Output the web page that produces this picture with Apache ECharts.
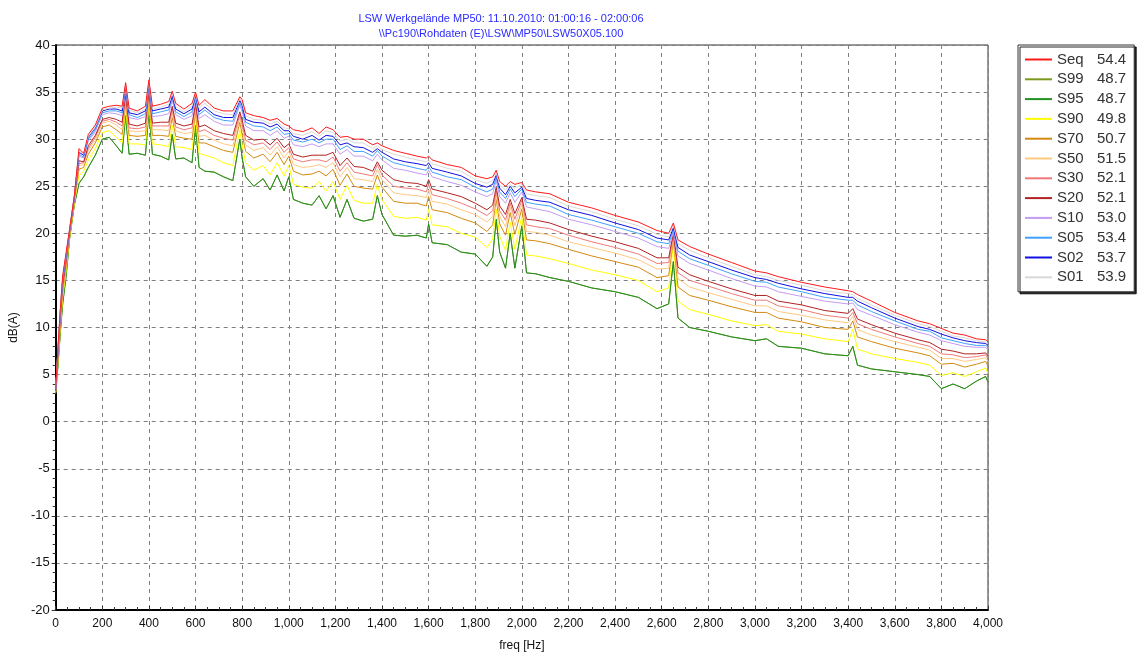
<!DOCTYPE html>
<html><head><meta charset="utf-8">
<script src="https://cdn.jsdelivr.net/npm/echarts@6/dist/echarts.min.js"></script>
<style>html,body{margin:0;padding:0;background:#fff}#c{width:1142px;height:657px}</style>
</head><body><div id="c"></div>
<script>
const titleLines = ['LSW Werkgelände MP50: 11.10.2010: 01:00:16 - 02:00:06', '\\\\Pc190\\Rohdaten (E)\\LSW\\MP50\\LSW50X05.100'];
const seriesNames = ['Seq','S99','S95','S90','S70','S50','S30','S20','S10','S05','S02','S01'];
const legendValues = [54.4,48.7,48.7,49.8,50.7,51.5,52.1,52.1,53.0,53.4,53.7,53.9];
const seriesColors = ['#ff1a1a','#7a9a20','#229022','#ffff00','#d28a10','#ffc880','#f07878','#b22222','#c39bef','#40a0ff','#1010e0','#d8d8d8'];

const freq = [0,10,20,30,45,60,80,100,120,140,170,200,230,260,285,300,315,350,385,400,415,450,485,500,515,550,585,600,615,640,680,720,760,790,800,815,850,890,920,950,980,1000,1020,1060,1100,1130,1160,1190,1220,1250,1280,1320,1360,1380,1400,1450,1500,1550,1590,1600,1615,1680,1740,1800,1850,1875,1890,1905,1930,1950,1970,2000,2020,2060,2120,2200,2300,2400,2500,2580,2630,2650,2670,2720,2800,2900,3000,3050,3100,3200,3300,3400,3420,3440,3500,3600,3700,3750,3800,3850,3900,3950,3990,4000];

const seq = [3.5,8,12,15.5,18,20.5,24,29.0,28.5,30.5, 31.5,33.3,33.5,33.6,33.5,36.0,33.3,33.0,33.5,36.3, 33.5,33.7,34.0,35.1,33.8,33.2,33.8,35.0,33.6,34.2, 33.3,33.0,33.0,34.5,34.2,32.8,32.5,32.3,32.0,32.2, 31.6,31.4,31.0,30.8,31.2,30.6,31.3,31.0,30.2,30.3, 30.0,30.0,29.4,29.6,29.3,28.8,28.5,28.2,28.0,28.2, 27.8,27.3,27.0,26.1,25.8,26.0,26.7,25.5,25.0,25.5, 25.2,25.4,24.6,24.4,24.2,23.3,22.7,21.9,21.2,20.3, 20.0,21.1,19.3,18.6,17.8,16.9,16.0,15.8,15.4,14.8, 14.3,13.9,13.8,13.5,12.8,11.6,10.7,10.4,9.9,9.4, 9.2,8.8,8.7,8.5];
const s95 = [3.0,6,9.5,12.5,15.5,19.5,23.0,25.3,26.0,27.0, 28.3,30.0,30.2,29.3,28.5,32.5,28.4,28.5,28.3,33.0, 28.4,28.2,27.8,30.5,27.9,28.0,27.5,31.5,27.0,26.6, 26.5,26.0,25.6,30.0,28.0,26.0,25.0,25.8,24.6,26.2, 24.5,26.0,23.6,23.2,23.0,24.0,22.6,24.0,21.7,23.6, 21.6,21.3,21.5,24.0,22.0,19.8,19.7,19.8,19.5,21.0, 19.0,18.8,18.0,17.8,16.5,17.5,21.5,18.0,16.3,20.0, 16.3,20.8,15.8,15.7,15.3,14.9,14.2,13.8,13.2,12.0, 12.5,17.0,11.0,10.0,9.6,9.0,8.6,8.8,8.0,7.8, 7.2,7.0,8.0,6.0,5.6,5.3,5.0,4.8,3.5,4.0, 3.5,4.3,4.8,4.2];
const s99 = [3.0,6,9.5,12.5,15.5,19.5,23.0,25.3,26.0,27.0, 28.3,30.0,30.2,29.3,28.5,32.5,28.4,28.5,28.3,33.0, 28.4,28.2,27.8,30.5,27.9,28.0,27.5,31.5,27.0,26.6, 26.5,26.0,25.6,30.0,28.0,26.0,25.0,25.8,24.6,26.2, 24.5,26.0,23.6,23.2,23.0,24.0,22.6,24.0,21.7,23.6, 21.6,21.3,21.5,24.0,22.0,19.8,19.7,19.8,19.5,21.0, 19.0,18.8,18.0,17.8,16.5,17.5,21.5,18.0,16.3,20.0, 16.3,20.8,15.8,15.7,15.3,14.9,14.2,13.8,13.2,12.0, 12.5,17.0,11.0,10.0,9.6,9.0,8.6,8.8,8.0,7.8, 7.2,7.0,8.0,6.0,5.6,5.3,5.0,4.8,3.5,4.0, 3.5,4.3,4.8,4.2];
const s01 = [3.5,7.9,11.9,15.4,17.9,20.5,24.0,28.8,28.4,30.3, 31.3,33.1,33.3,33.4,33.3,35.8,33.1,32.8,33.2,36.1, 33.2,33.4,33.7,34.9,33.5,32.9,33.5,34.8,33.3,33.8, 33.0,32.7,32.6,34.3,33.9,32.5,32.1,32.0,31.6,31.9, 31.2,31.1,30.6,30.4,30.8,30.3,30.9,30.7,29.8,30.0, 29.6,29.6,29.0,29.3,28.9,28.4,28.1,27.8,27.6,27.8, 27.4,26.9,26.6,25.7,25.3,25.6,26.4,25.1,24.6,25.2, 24.8,25.2,24.2,24.0,23.8,22.9,22.3,21.5,20.8,19.9, 19.6,20.9,18.9,18.2,17.4,16.5,15.6,15.4,15.0,14.5, 13.9,13.6,13.5,13.1,12.4,11.3,10.4,10.1,9.6,9.1, 8.9,8.6,8.5,8.3];
const s02 = [3.4,7.8,11.8,15.2,17.8,20.4,23.9,28.6,28.3,30.2, 31.2,33.0,33.2,33.2,33.0,35.7,32.8,32.6,33.0,36.0, 33.0,33.2,33.4,34.6,33.2,32.7,33.2,34.7,32.9,33.4, 32.6,32.3,32.3,34.1,33.6,32.1,31.8,31.7,31.3,31.6, 30.9,30.9,30.3,30.0,30.4,29.9,30.4,30.3,29.4,29.6, 29.2,29.1,28.6,29.0,28.6,27.9,27.6,27.4,27.2,27.5, 26.9,26.5,26.1,25.3,24.9,25.2,26.2,24.8,24.1,25.0, 24.3,24.9,23.7,23.5,23.3,22.5,21.9,21.1,20.4,19.5, 19.3,20.6,18.5,17.7,17.0,16.1,15.3,15.1,14.7,14.1, 13.6,13.2,13.2,12.8,12.1,11.0,10.1,9.8,9.3,8.9, 8.6,8.4,8.3,8.1];
const s05 = [3.4,7.7,11.6,15.1,17.6,20.4,23.9,28.4,28.1,30.0, 31.0,32.8,33.0,33.0,32.8,35.5,32.6,32.3,32.7,35.8, 32.7,32.9,33.1,34.4,32.9,32.4,32.9,34.5,32.6,33.1, 32.3,32.0,31.9,33.8,33.3,31.8,31.4,31.3,30.9,31.3, 30.5,30.6,29.9,29.7,30.0,29.6,30.0,30.0,28.9,29.3, 28.7,28.7,28.2,28.8,28.2,27.5,27.2,26.9,26.7,27.1, 26.5,26.0,25.7,24.9,24.4,24.7,25.9,24.4,23.7,24.7, 23.9,24.7,23.3,23.1,22.9,22.0,21.4,20.7,20.0,19.1, 18.9,20.4,18.1,17.3,16.6,15.7,14.9,14.8,14.3,13.8, 13.2,12.9,12.9,12.4,11.7,10.7,9.8,9.6,8.9,8.6, 8.3,8.1,8.1,7.9];
const s10 = [3.4,7.6,11.5,14.9,17.5,20.3,23.8,28.2,28.0,29.8, 30.8,32.6,32.8,32.7,32.5,35.3,32.3,32.1,32.4,35.6, 32.4,32.5,32.7,34.1,32.6,32.1,32.5,34.3,32.2,32.6, 31.9,31.5,31.5,33.6,32.9,31.4,30.9,30.9,30.4,30.9, 30.1,30.3,29.4,29.2,29.5,29.2,29.5,29.5,28.4,28.9, 28.2,28.2,27.7,28.4,27.8,26.9,26.7,26.4,26.2,26.7, 26.0,25.5,25.1,24.4,23.9,24.2,25.6,23.9,23.2,24.3, 23.3,24.4,22.8,22.6,22.3,21.5,20.9,20.2,19.5,18.6, 18.4,20.1,17.6,16.8,16.1,15.2,14.4,14.3,13.8,13.3, 12.8,12.5,12.6,11.9,11.3,10.3,9.5,9.2,8.6,8.3, 8.0,7.9,7.9,7.6];
const s20 = [3.3,7.3,11.1,14.5,17.1,20.2,23.7,27.7,27.6,29.3, 30.4,32.1,32.3,32.1,31.8,34.8,31.6,31.4,31.7,35.1, 31.7,31.8,31.8,33.5,31.7,31.4,31.6,33.8,31.3,31.5, 30.9,30.6,30.4,32.9,32.0,30.4,29.9,30.0,29.4,30.1, 29.1,29.5,28.4,28.1,28.3,28.3,28.3,28.6,27.2,28.0, 27.1,27.0,26.6,27.6,26.7,25.7,25.4,25.3,25.0,25.7, 24.7,24.3,23.9,23.2,22.5,23.0,24.9,22.9,22.0,23.6, 22.1,23.8,21.5,21.4,21.1,20.4,19.7,19.1,18.4,17.4, 17.4,20.0,16.4,15.6,14.9,14.1,13.4,13.4,12.8,12.4, 11.8,11.5,12.0,10.9,10.3,9.4,8.7,8.4,7.7,7.5, 7.2,7.2,7.3,7.0];
const s30 = [3.3,7.2,11.0,14.2,17.0,20.1,23.6,27.4,27.5,29.0, 30.2,31.9,32.1,31.8,31.4,34.5,31.2,31.1,31.3,34.9, 31.4,31.4,31.4,33.2,31.3,31.0,31.2,33.5,30.8,31.0, 30.4,30.1,29.9,32.6,31.6,29.9,29.4,29.6,28.9,29.7, 28.6,29.1,27.9,27.6,27.8,27.8,27.6,28.1,26.6,27.5, 26.5,26.3,26.1,27.3,26.2,25.0,24.8,24.7,24.4,25.2, 24.1,23.7,23.2,22.6,21.9,22.4,24.5,22.4,21.4,23.2, 21.5,23.5,20.9,20.7,20.5,19.8,19.1,18.5,17.8,16.8, 16.9,19.8,15.8,15.0,14.4,13.6,12.9,12.9,12.3,11.9, 11.3,11.0,11.6,10.4,9.8,9.0,8.3,8.0,7.2,7.1, 6.8,6.9,7.1,6.7];
const s50 = [3.3,7.0,10.8,14.0,16.8,20.0,23.5,27.2,27.3,28.8, 29.9,31.7,31.9,31.5,31.0,34.3,30.9,30.8,30.9,34.7, 31.0,31.0,30.9,32.8,30.9,30.6,30.7,33.3,30.3,30.4, 29.9,29.5,29.3,32.3,31.1,29.4,28.8,29.1,28.3,29.2, 28.0,28.7,27.3,27.0,27.1,27.3,27.0,27.5,26.0,27.0, 25.8,25.7,25.5,26.8,25.7,24.3,24.1,24.0,23.8,24.6, 23.4,23.1,22.5,22.0,21.2,21.8,24.1,21.8,20.7,22.8, 20.8,23.1,20.2,20.1,19.8,19.1,18.5,17.9,17.2,16.2, 16.3,19.6,15.2,14.3,13.7,13.0,12.3,12.3,11.7,11.3, 10.8,10.5,11.2,9.8,9.2,8.5,7.9,7.6,6.7,6.7, 6.4,6.6,6.8,6.4];
const s70 = [3.2,6.8,10.5,13.7,16.5,19.9,23.4,26.8,27.0,28.4, 29.6,31.3,31.5,31.0,30.5,33.9,30.4,30.3,30.4,34.3, 30.4,30.4,30.3,32.3,30.3,30.1,30.0,32.9,29.6,29.6, 29.2,28.8,28.6,31.8,30.5,28.7,28.0,28.4,27.6,28.6, 27.3,28.2,26.6,26.2,26.3,26.6,26.1,26.8,25.1,26.3, 25.0,24.8,24.7,26.2,24.9,23.4,23.2,23.2,22.9,23.9, 22.5,22.2,21.6,21.1,20.2,20.9,23.6,21.0,19.8,22.2, 19.9,22.6,19.3,19.2,18.9,18.3,17.6,17.0,16.4,15.3, 15.5,19.3,14.3,13.4,12.9,12.2,11.6,11.6,11.0,10.6, 10.0,9.8,10.7,9.0,8.5,7.8,7.3,7.0,6.1,6.2, 5.8,6.1,6.4,5.9];
const s90 = [3.1,6.4,10.1,13.2,16.1,19.7,23.2,26.1,26.6,27.8, 29.0,30.7,30.9,30.2,29.6,33.3,29.5,29.5,29.4,33.7, 29.5,29.4,29.2,31.5,29.2,29.1,28.9,32.3,28.5,28.3, 28.0,27.5,27.2,31.0,29.4,27.5,26.7,27.2,26.2,27.5, 26.1,27.2,25.2,24.9,24.8,25.5,24.5,25.5,23.6,25.1, 23.5,23.2,23.2,25.2,23.6,21.8,21.6,21.7,21.4,22.6, 20.9,20.7,20.0,19.6,18.5,19.4,22.6,19.7,18.2,21.2, 18.3,21.8,17.7,17.6,17.3,16.8,16.1,15.6,15.0,13.8, 14.2,18.8,12.8,11.9,11.4,10.7,10.2,10.3,9.6,9.3, 8.8,8.5,9.8,7.7,7.2,6.7,6.3,6.0,4.9,5.2, 4.8,5.3,5.7,5.1];

const seriesData = [seq, s99, s95, s90, s70, s50, s30, s20, s10, s05, s02, s01];

const chart = echarts.init(document.getElementById('c'), null, {renderer: 'canvas'});
const FONT = 'Liberation Sans, Arial, sans-serif';

chart.setOption({
  animation: false,
  backgroundColor: '#fff',
  title: {
    text: titleLines.join('\n'),
    left: 496, top: 6, textAlign: 'center',
    textStyle: {fontSize: 11, fontWeight: 'normal', color: '#2b2bff', lineHeight: 15, fontFamily: FONT}
  },
  grid: {left: 55, right: 154, top: 45, bottom: 46, show: true, borderColor: '#333', borderWidth: 1, backgroundColor: 'transparent'},
  legend: {
    orient: 'vertical', left: 1018, top: 45,
    selectedMode: false,
    data: seriesNames,
    icon: 'rect', itemWidth: 27, itemHeight: 2, itemGap: 4.8,
    padding: [7, 8, 7, 7],
    backgroundColor: '#fff', borderColor: '#333', borderWidth: 1,
    shadowColor: 'rgba(0,0,0,0.85)', shadowOffsetX: 2, shadowOffsetY: 2, shadowBlur: 0,
    formatter: name => {
      const i = seriesNames.indexOf(name);
      return '{n|' + name + '}{v|' + legendValues[i].toFixed(1) + '}';
    },
    textStyle: {
      fontFamily: FONT, fontSize: 15, color: '#333', padding: [0, 0, 0, 0],
      rich: {n: {width: 40, fontSize: 15, fontFamily: FONT, color: '#333'}, v: {fontSize: 15, fontFamily: FONT, color: '#333'}}
    }
  },
  xAxis: {
    type: 'value', min: 0, max: 4000, interval: 200,
    name: 'freq [Hz]', nameLocation: 'middle', nameGap: 30,
    nameTextStyle: {fontFamily: FONT, fontSize: 12, color: '#111'},
    axisLine: {show: true, onZero: false, lineStyle: {color: '#000', width: 2}},
    axisTick: {show: true, inside: true, length: 4, lineStyle: {color: '#333'}},
    minorTick: {show: true, splitNumber: 4, length: 3, lineStyle: {color: '#333'}},
    axisLabel: {fontFamily: FONT, fontSize: 12, color: '#111', margin: 8,
      formatter: v => v.toLocaleString('en-US')},
    splitLine: {show: true, lineStyle: {color: '#808080', type: [4, 4], width: 1}},
    minorSplitLine: {show: false}
  },
  yAxis: {
    type: 'value', min: -20, max: 40, interval: 5,
    name: 'dB(A)', nameLocation: 'middle', nameGap: 32, nameRotate: 90,
    nameTextStyle: {fontFamily: FONT, fontSize: 12, color: '#111'},
    axisLine: {show: true, onZero: false, lineStyle: {color: '#000', width: 2}},
    axisTick: {show: true, inside: false, length: 4, lineStyle: {color: '#333'}},
    minorTick: {show: true, splitNumber: 5, length: 3, lineStyle: {color: '#333'}},
    axisLabel: {fontFamily: FONT, fontSize: 13, color: '#111', margin: 6},
    splitLine: {show: true, lineStyle: {color: '#808080', type: [4, 4], width: 1}}
  },
  series: seriesNames.map((name, k) => ({
    name: name,
    type: 'line',
    showSymbol: false,
    symbol: 'none',
    color: seriesColors[k],
    lineStyle: {width: 1, color: seriesColors[k]},
    z: name === 'Seq' ? 3 : 2,
    data: freq.map((f, i) => [f, seriesData[k][i]])
  }))
});
</script>
</body></html>
